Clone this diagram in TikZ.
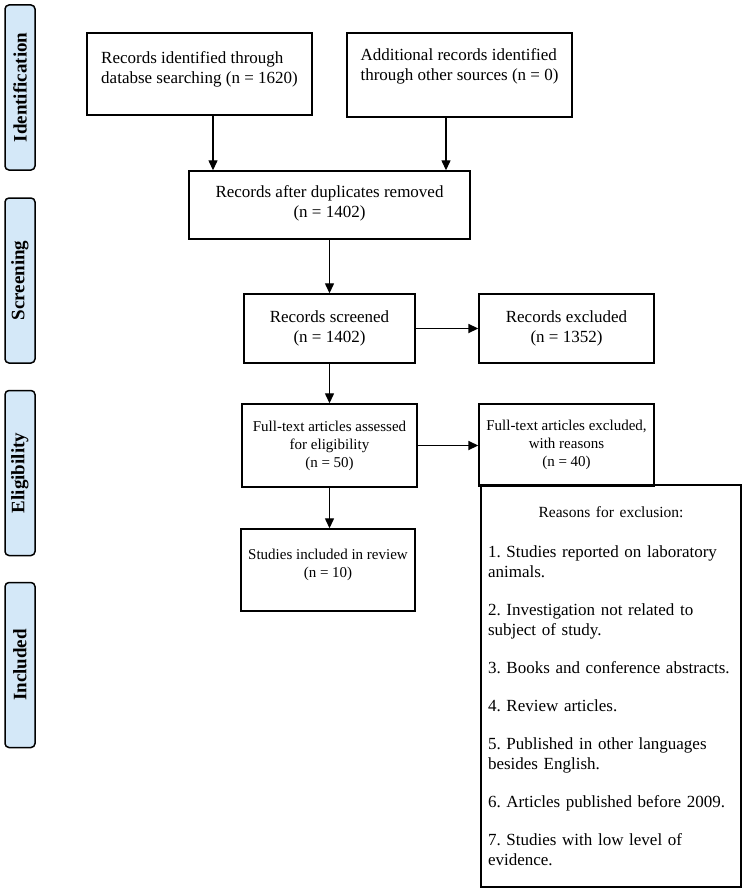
\documentclass[tikz,border=0pt]{standalone}
\usepackage{fontspec}
\setmainfont{Liberation Serif}
\usetikzlibrary{arrows.meta}
\definecolor{sidefill}{RGB}{212,232,248}
\frenchspacing
\begin{document}
\begin{tikzpicture}[x=1pt,y=-1pt,
  box/.style={draw=black, line width=1.4pt, rectangle, inner sep=0pt, align=center, font=\fontsize{17}{20}\selectfont\frenchspacing},
  smallbox/.style={box, font=\fontsize{15}{18}\selectfont\frenchspacing},
  side/.style={draw=black, line width=1.5pt, fill=sidefill, rounded corners=4pt, minimum width=165pt, minimum height=30pt, rotate=90, font=\fontsize{19}{20}\selectfont\bfseries, inner sep=0pt},
  arr/.style={line width=1.3pt, -{Triangle[length=10pt,width=9pt]}},
  harr/.style={arr, line width=1.7pt}]
\useasboundingbox (0,0) rectangle (750,891);
\fill[white] (0,0) rectangle (750,891);
% phase labels
\node[side] (s1) at (20,87.5) {Identification};
\node[side] (s2) at (20,280.5) {Screening};
\node[side] (s3) at (20,473) {Eligibility};
\node[side] (s4) at (20,665) {Included};
% boxes
\node[box, minimum width=225pt, minimum height=82pt, align=left] (b1) at (199.5,74)
  {Records identified through\\databse searching (n = 1620)\\[-14pt]\strut};
\node[box, minimum width=225pt, minimum height=84pt, align=left] (b2) at (459.5,75)
  {Additional records identified\\through other sources (n = 0)\\[-6pt]\strut};
\node[box, minimum width=281pt, minimum height=68pt] (b3) at (329.5,205)
  {Records after duplicates removed\\(n = 1402)\\[-19pt]\strut};
\node[box, minimum width=171pt, minimum height=69pt] (b4) at (329.5,328.5)
  {Records screened\\(n = 1402)};
\node[box, minimum width=175pt, minimum height=69pt] (b5) at (566.5,328.5)
  {Records excluded\\(n = 1352)};
\node[smallbox, minimum width=175pt, minimum height=83pt] (b6) at (329.5,445.5)
  {Full-text articles assessed\\for eligibility\\(n = 50)};
\node[smallbox, minimum width=175pt, minimum height=82pt] (b7) at (566.5,445)
  {Full-text articles excluded,\\with reasons\\(n = 40)};
\node[smallbox, minimum width=174pt, minimum height=82pt] (b8) at (328,570)
  {Studies included in review\\(n = 10)\\[-10pt]\strut};
\node[box, minimum width=260pt, minimum height=402pt, text width=246pt, align=left] (b9) at (611,686)
  {\makebox[246pt][c]{\fontsize{15.5}{18}\selectfont Reasons for exclusion:}\\[20pt]
   1. Studies reported on laboratory\\animals.\\[18pt]
   2. Investigation not related to\\subject of study.\\[18pt]
   3. Books and conference abstracts.\\[18pt]
   4. Review articles.\\[18pt]
   5. Published in other languages\\besides English.\\[18pt]
   6. Articles published before 2009.\\[18pt]
   7. Studies with low level of\\evidence.};
% connectors
\coordinate (a1s) at ([xshift=13.5pt]b1.south);
\coordinate (a2s) at ([xshift=-13.5pt]b2.south);
\draw[arr] (a1s) -- (a1s |- b3.north);
\draw[arr] (a2s) -- (a2s |- b3.north);
\draw[arr] (b3.south) -- (b4.north);
\draw[harr] (b4.east) -- (b5.west);
\draw[arr] (b4.south) -- (b6.north);
\draw[harr] (b6.east) -- (b6.east -| b7.west);
\draw[arr] (b6.south) -- (b6.south |- b8.north);
\end{tikzpicture}
\end{document}
